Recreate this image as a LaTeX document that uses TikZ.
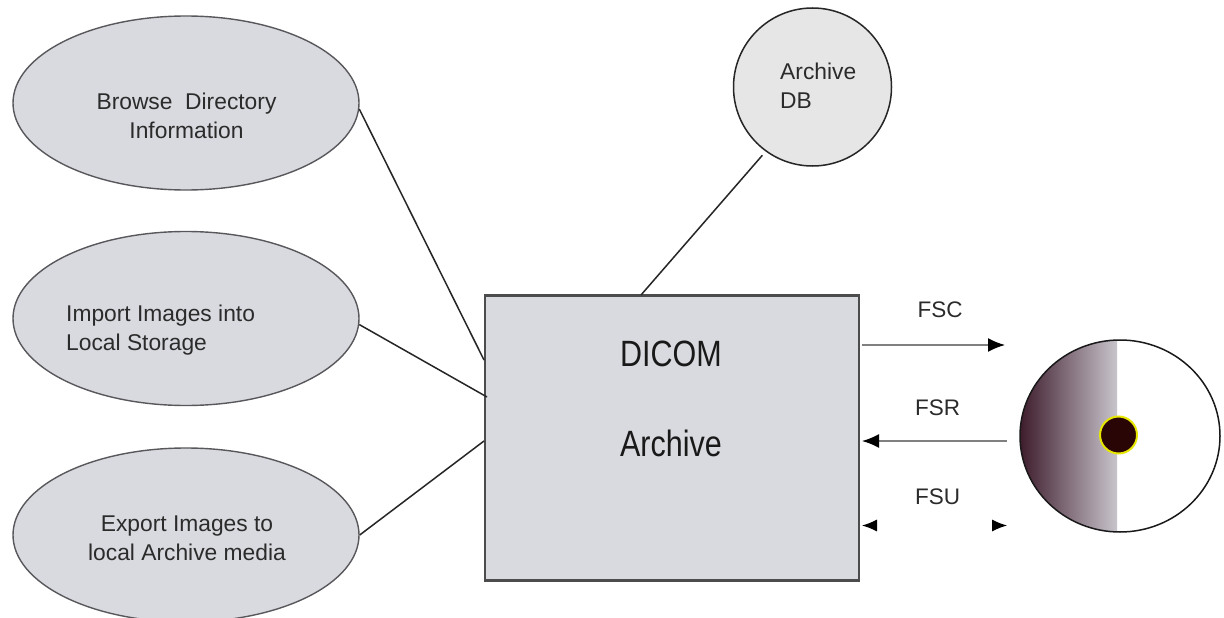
\documentclass[tikz,border=0pt]{standalone}
\usepackage{fontspec}
\setmainfont{Liberation Sans}
\usetikzlibrary{arrows.meta,shapes.geometric}
\definecolor{ovalfill}{HTML}{D9DADF}
\definecolor{dbfill}{HTML}{E6E6E6}
\definecolor{boxfill}{HTML}{D9DADF}
\definecolor{edgegray}{HTML}{58585C}
\definecolor{flowgray}{HTML}{808080}
\definecolor{diskdark}{HTML}{3E1C2C}
\definecolor{disklight}{HTML}{C8C4CC}
\definecolor{holefill}{HTML}{2A0505}
\definecolor{holering}{HTML}{E6E600}
\definecolor{inktext}{HTML}{2B2B2B}
\tikzset{
  x=1pt,y=-1pt,
  oval/.style={ellipse,draw=edgegray,line width=1.4pt,fill=ovalfill,minimum width=346pt,minimum height=174pt,inner sep=0pt},
  dbcircle/.style={circle,draw=black!85,line width=1.5pt,fill=dbfill,minimum size=158pt,inner sep=0pt},
  archivebox/.style={rectangle,draw=black!70,line width=2.3pt,fill=boxfill,minimum width=374pt,minimum height=285pt,inner sep=0pt},
  label/.style={font=\fontsize{22.8}{29}\selectfont,text=inktext,align=center,inner sep=0pt},
  flowlabel/.style={font=\fontsize{22.5}{24}\selectfont,text=inktext,inner sep=0pt},
  biglabel/.style={font=\fontsize{30.5}{36}\selectfont,text=black!90,inner sep=0pt,yscale=1.2,transform shape},
  link/.style={black!85,line width=1.5pt},
  flow/.style={flowgray,line width=1.6pt},
  head/.style={-{Latex[length=17pt,width=14pt,black]}},
  bothheads/.style={{Latex[length=15pt,width=12pt,black]}-{Latex[length=15pt,width=12pt,black]}},
}
\begin{document}
\begin{tikzpicture}
\useasboundingbox (0,0) rectangle (1224,618);
\fill[white] (0,0) rectangle (1224,618);
\begin{scope}
\clip (0,0) rectangle (1224,618);
\node[oval] (e1) at (186,103) {};
\node[oval] (e2) at (186,318.5) {};
\node[oval] (e3) at (186,535) {};
\end{scope}
\node[dbcircle] (db) at (812.5,87) {};
\node[archivebox] (box) at (672,438) {};
% disk
\begin{scope}
\clip (1120,436) ellipse (100 and 96);
\shade[left color=diskdark,right color=disklight] (1020,330) rectangle (1117,540);
\end{scope}
\node[ellipse,draw=black!90,line width=1.5pt,minimum width=200pt,minimum height=192pt,inner sep=0pt] (disk) at (1120,436) {};
\node[circle,draw=holering,line width=2pt,fill=holefill,minimum size=37pt,inner sep=0pt] (hole) at (1118.5,435) {};
% free ends
\coordinate (b1) at (484,360);
\coordinate (b2) at (487,397);
\coordinate (b3) at (484,441);
\coordinate (b4) at (641,295);
\coordinate (fscA) at (862,345);
\coordinate (fscB) at (1005,345);
\coordinate (fsrA) at (1007,441);
\coordinate (fsrB) at (862,441);
\coordinate (fsuA) at (862,525.5);
\coordinate (fsuB) at (1007,525.5);
\draw[link] (e1.-2) -- (b1);
\draw[link] (e2.-2) -- (b2);
\draw[link] (e3.0) -- (b3);
\draw[link,shorten <=5pt] (db.-126) -- (b4);
\draw[flow,head] (fscA) -- (fscB);
\draw[flow,head] (fsrA) -- (fsrB);
\draw[white,line width=1pt,bothheads] (fsuA) -- (fsuB);
\node[label] (t1) at (186.5,116) {Browse\ \ Directory\\Information};
\node[label,align=left,anchor=west] (t2) at (66,330) {Import Images into\\Local Storage};
\node[label] (t3) at (187,538) {Export Images to\\local Archive media};
\node[label,align=left,anchor=west] (t4) at (780,86) {Archive\\DB};
\node[biglabel] (t5) at (671,353.5) {DICOM};
\node[biglabel] (t6) at (671,443.5) {Archive};
\node[flowlabel] (t7) at (940,310) {FSC};
\node[flowlabel] (t8) at (937.5,408) {FSR};
\node[flowlabel] (t9) at (937.5,497) {FSU};
\end{tikzpicture}
\end{document}
